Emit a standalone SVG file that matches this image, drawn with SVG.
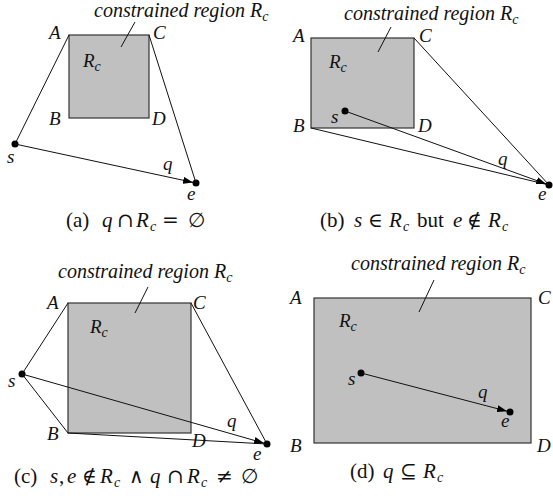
<svg xmlns="http://www.w3.org/2000/svg" width="553" height="500" viewBox="0 0 553 500" font-family="Liberation Serif, Times New Roman, serif">
<style>
text{font-family:'Liberation Serif','Times New Roman',serif;fill:#111}
.it{font-style:italic;font-size:19px}
.title{font-style:italic;font-size:20px}
.cap{font-size:21px}
.mi{font-style:italic}
.sub{font-size:14px}
.sym{font-family:'DejaVu Serif','DejaVu Sans',serif;font-size:20px}
.region{fill:#c0c0c0;stroke:#333;stroke-width:1.2}
.ln{stroke:#111;stroke-width:1;fill:none}
.dot{fill:#000}
</style>
<defs>
<marker id="ah" markerUnits="userSpaceOnUse" markerWidth="10" markerHeight="7" refX="10" refY="3.5" orient="auto">
<path d="M0,0 L10,3.5 L0,7 z" fill="#000"/>
</marker>
</defs>

<!-- Panel (a) -->
<g id="panel-a">
<g id="a-region"><rect class="region" x="69" y="35" width="80" height="83"/>
<text class="it" x="83" y="67">R<tspan class="sub" dy="4">c</tspan></text></g>
<g id="a-title"><text class="title" x="94" y="17">constrained region R<tspan class="sub" dy="4">c</tspan></text></g>
<g id="a-labels">
<text class="it" x="49" y="39">A</text>
<text class="it" x="153" y="39">C</text>
<text class="it" x="49" y="125">B</text>
<text class="it" x="152" y="125">D</text>
</g>
<g id="a-s"><circle class="dot" cx="15" cy="144" r="3.5"/><text class="it" x="7" y="163">s</text></g>
<g id="a-e"><circle class="dot" cx="196" cy="183" r="3.5"/><text class="it" x="187" y="200">e</text></g>
<text class="it" x="163" y="170">q</text>
<text class="cap" y="227"><tspan x="66">(a)</tspan><tspan class="mi" x="102">q</tspan><tspan class="sym" x="117">∩</tspan><tspan class="mi" x="136">R</tspan><tspan class="mi sub" x="150" dy="4">c</tspan><tspan class="sym" x="162" dy="-4">=</tspan><tspan class="sym" x="188">∅</tspan></text>
</g>

<!-- Panel (b) -->
<g id="panel-b">
<g id="b-region"><rect class="region" x="311" y="38" width="103" height="90"/>
<text class="it" x="329" y="68">R<tspan class="sub" dy="4">c</tspan></text></g>
<g id="b-title"><text class="title" x="344" y="20">constrained region R<tspan class="sub" dy="4">c</tspan></text></g>
<g id="b-labels">
<text class="it" x="293" y="42">A</text>
<text class="it" x="419" y="42">C</text>
<text class="it" x="293" y="132">B</text>
<text class="it" x="418" y="132">D</text>
</g>
<g id="b-s"><circle class="dot" cx="345" cy="111" r="3.5"/><text class="it" x="331" y="123">s</text></g>
<g id="b-e"><circle class="dot" cx="549" cy="185" r="3.5"/><text class="it" x="538" y="200">e</text></g>
<text class="it" x="498" y="165">q</text>
<text class="cap" y="227"><tspan x="320">(b)</tspan><tspan class="mi" x="354">s</tspan><tspan class="sym" x="368">∈</tspan><tspan class="mi" x="389">R</tspan><tspan class="mi sub" x="403" dy="4">c</tspan><tspan x="417" dy="-4">but</tspan><tspan class="mi" x="453">e</tspan><tspan class="sym" x="467">∉</tspan><tspan class="mi" x="488">R</tspan><tspan class="mi sub" x="502" dy="4">c</tspan></text>
</g>

<!-- Panel (c) -->
<g id="panel-c">
<g id="c-region"><rect class="region" x="68" y="303" width="123" height="130"/>
<text class="it" x="90" y="333">R<tspan class="sub" dy="4">c</tspan></text></g>
<g id="c-title"><text class="title" x="58" y="278">constrained region R<tspan class="sub" dy="4">c</tspan></text></g>
<g id="c-labels">
<text class="it" x="47" y="309">A</text>
<text class="it" x="193" y="309">C</text>
<text class="it" x="47" y="440">B</text>
<text class="it" x="192" y="447">D</text>
</g>
<g id="c-s"><circle class="dot" cx="22" cy="374" r="3.5"/><text class="it" x="8" y="387">s</text></g>
<g id="c-e"><circle class="dot" cx="267" cy="444" r="3.5"/><text class="it" x="253" y="460">e</text></g>
<text class="it" x="227" y="427">q</text>
<text class="cap" y="483"><tspan x="14">(c)</tspan><tspan class="mi" x="50">s</tspan><tspan x="59">,</tspan><tspan class="mi" x="67">e</tspan><tspan class="sym" x="82">∉</tspan><tspan class="mi" x="100">R</tspan><tspan class="mi sub" x="114" dy="4">c</tspan><tspan class="sym" x="129" dy="-4">∧</tspan><tspan class="mi" x="150">q</tspan><tspan class="sym" x="167">∩</tspan><tspan class="mi" x="187">R</tspan><tspan class="mi sub" x="201" dy="4">c</tspan><tspan class="sym" x="216" dy="-4">≠</tspan><tspan class="sym" x="241">∅</tspan></text>
</g>

<!-- Panel (d) -->
<g id="panel-d">
<g id="d-region"><rect class="region" x="314" y="298" width="217" height="145"/>
<text class="it" x="339" y="327">R<tspan class="sub" dy="4">c</tspan></text></g>
<g id="d-title"><text class="title" x="351" y="270">constrained region R<tspan class="sub" dy="4">c</tspan></text></g>
<g id="d-labels">
<text class="it" x="290" y="304">A</text>
<text class="it" x="538" y="304">C</text>
<text class="it" x="290" y="452">B</text>
<text class="it" x="537" y="452">D</text>
</g>
<g id="d-s"><circle class="dot" cx="361" cy="373" r="3.5"/><text class="it" x="348" y="385">s</text></g>
<g id="d-e"><circle class="dot" cx="510" cy="412" r="3.5"/><text class="it" x="501" y="427">e</text></g>
<text class="it" x="478" y="398">q</text>
<text class="cap" y="478"><tspan x="350">(d)</tspan><tspan class="mi" x="383">q</tspan><tspan class="sym" x="400">⊆</tspan><tspan class="mi" x="423">R</tspan><tspan class="mi sub" x="437" dy="4">c</tspan></text>
</g>

<g id="connectors">
<!-- (a) -->
<line class="ln" x1="135" y1="22" x2="121" y2="47"/>
<line class="ln" x1="69" y1="35" x2="15" y2="144"/>
<line class="ln" x1="149" y1="35" x2="196" y2="183"/>
<line class="ln" x1="15" y1="144" x2="193.1" y2="182.4" marker-end="url(#ah)"/>
<!-- (b) -->
<line class="ln" x1="391" y1="27" x2="378" y2="52"/>
<line class="ln" x1="414" y1="38" x2="549" y2="185"/>
<line class="ln" x1="311" y1="128" x2="549" y2="185"/>
<line class="ln" x1="345" y1="111" x2="546.2" y2="184" marker-end="url(#ah)"/>
<!-- (c) -->
<line class="ln" x1="148" y1="287" x2="135" y2="313"/>
<line class="ln" x1="68" y1="303" x2="22" y2="374"/>
<line class="ln" x1="68" y1="433" x2="22" y2="374"/>
<line class="ln" x1="191" y1="303" x2="267" y2="444"/>
<line class="ln" x1="68" y1="433" x2="267" y2="444"/>
<line class="ln" x1="22" y1="374" x2="264.1" y2="443.2" marker-end="url(#ah)"/>
<!-- (d) -->
<line class="ln" x1="434" y1="280" x2="419" y2="312"/>
<line class="ln" x1="361" y1="373" x2="507.1" y2="411.2" marker-end="url(#ah)"/>
</g>
</svg>
